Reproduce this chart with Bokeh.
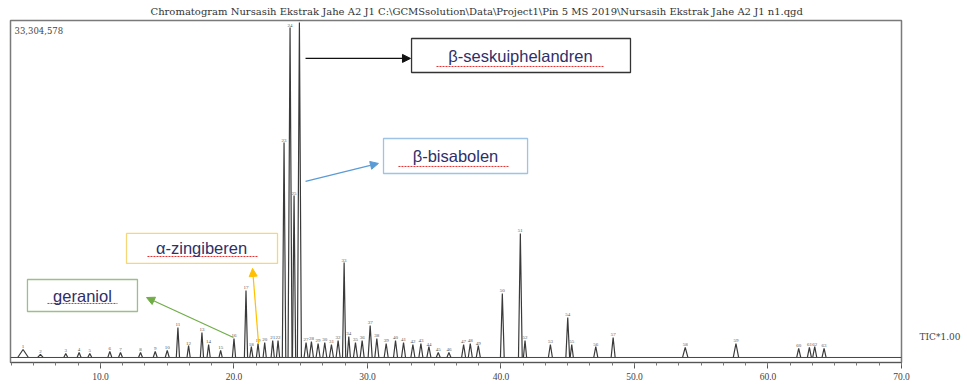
from bokeh.plotting import figure
from bokeh.models import (Range1d, Label, Arrow, NormalHead, Span, SingleIntervalTicker,
                          PrintfTickFormatter, LinearAxis, FixedTicker)
from bokeh.core.properties import value
from bokeh.embed import file_html
from bokeh.resources import INLINE

# ---- data (retention time in min, intensity in counts) ----
peak_rt = [4.2, 5.5, 7.4, 8.4, 9.2, 10.7, 11.5, 13.0, 14.1, 15.0,
           15.8, 16.6, 17.6, 18.1, 19.0, 20.0, 20.9, 21.3, 21.8, 22.3,
           22.9, 23.3, 23.75, 24.2, 24.5, 24.9, 25.4, 25.8, 26.3, 26.8,
           27.3, 27.8, 28.25, 28.6, 29.1, 29.6, 30.2, 30.7, 31.4, 32.1,
           32.7, 33.4, 34.0, 34.6, 35.3, 36.1, 37.2, 37.7, 38.3, 40.1,
           41.45, 41.8, 43.7, 45.0, 45.3, 47.1, 48.4, 53.8, 57.6, 62.3,
           63.1, 63.5, 64.2]
peak_height = [795000, 300000, 400000, 500000, 400000, 600000, 500000, 500000, 600000, 700000,
               2980000, 1190000, 2490000, 1290000, 700000, 1890000, 6660000, 1090000, 1390000, 1490000,
               1690000, 1690000, 21370000, 32800000, 16100000, 33304578, 1490000, 1590000, 1390000, 1490000,
               1290000, 1690000, 9440000, 2090000, 1490000, 1690000, 3180000, 1890000, 1390000, 1690000,
               1490000, 1290000, 1390000, 1090000, 500000, 500000, 1290000, 1390000, 1190000, 6360000,
               12330000, 1690000, 1290000, 3980000, 1290000, 1090000, 1990000, 1000000, 1390000, 900000,
               1000000, 1090000, 900000]
peak_halfwidth = [0.4, 0.2, 0.15, 0.15, 0.15, 0.15, 0.15, 0.15, 0.15, 0.15,
                  0.12, 0.12, 0.12, 0.12, 0.12, 0.12, 0.12, 0.12, 0.12, 0.12,
                  0.12, 0.12, 0.13, 0.15, 0.12, 0.15, 0.15, 0.15, 0.15, 0.15,
                  0.15, 0.15, 0.12, 0.12, 0.15, 0.15, 0.15, 0.15, 0.15, 0.15,
                  0.15, 0.15, 0.15, 0.15, 0.15, 0.15, 0.15, 0.15, 0.15, 0.14,
                  0.14, 0.12, 0.15, 0.14, 0.12, 0.15, 0.15, 0.2, 0.2, 0.15,
                  0.15, 0.15, 0.15]
title_text = ("Chromatogram Nursasih Ekstrak Jahe A2 J1  C:\\GCMSsolution\\Data\\Project1\\"
              "Pin 5 MS 2019\\Nursasih Ekstrak Jahe A2 J1 n1.qgd")
max_label = "33,304,578"
tic_label = "TIC*1.00"
compound_names = ["\u03b2-seskuiphelandren", "\u03b2-bisabolen", "\u03b1-zingiberen", "geraniol"]

SERIF = "Liberation Serif"
WSERIF = "DejaVu Serif"
SANS = "Liberation Sans"

p = figure(width=967, height=389, output_backend="svg", toolbar_location=None,
           x_range=Range1d(3.26, 70.0), y_range=Range1d(-500000, 33500000),
           y_axis_location=None, min_border_left=10, min_border_right=66,
           min_border_top=20, min_border_bottom=27,
           background_fill_color="white", border_fill_color="white")
p.grid.visible = False
p.outline_line_color = "#7a7a7a"
p.outline_line_width = 1.5

p.title.text = title_text
p.title.text_font = WSERIF
p.title.text_font_size = "10px"
p.title.text_font_style = "normal"
p.title.text_color = "#333333"
p.title.align = "left"
p.title.offset = 140
p.title.standoff = 7

ax = p.xaxis[0]
ax.ticker = SingleIntervalTicker(interval=10, num_minor_ticks=6)
ax.formatter = PrintfTickFormatter(format="%.1f")
ax.major_label_text_font = SERIF
ax.major_label_text_font_size = "9.5px"
ax.major_label_text_color = "#444444"
ax.major_label_standoff = 4
ax.major_tick_out = 6
ax.major_tick_in = 0
ax.minor_tick_out = 3
ax.minor_tick_in = 0
ax.axis_line_color = "#555555"
ax.major_tick_line_color = "#555555"
ax.minor_tick_line_color = "#777777"

# right-hand "TIC*1.00" label, placed through an axis with a single tick near the baseline
tic_axis = LinearAxis(ticker=FixedTicker(ticks=[2000000]),
                      major_label_overrides={2000000: tic_label},
                      axis_line_color=None, major_tick_line_color=None, minor_tick_line_color=None,
                      major_label_standoff=12, major_label_text_font=WSERIF,
                      major_label_text_font_size="9px", major_label_text_color="#444444")
p.add_layout(tic_axis, "right")

# baseline of the trace
p.add_layout(Span(location=0, dimension="width", line_color="#444444", line_width=1))

# peaks drawn from the peak table
xs = [[rt - w, rt, rt + w] for rt, w in zip(peak_rt, peak_halfwidth)]
ys = [[0, h, 0] for h in peak_height]
p.multi_line(xs, ys, line_color="#3a3a3a", line_width=1.2)

# tiny peak number labels
p.text(x=peak_rt, y=peak_height, text=[str(i + 1) for i in range(len(peak_rt))],
       text_font=value(SERIF), text_font_size="5px", text_color="#555555",
       text_align="center", text_baseline="bottom", y_offset=-1)

p.add_layout(Label(x=3.56, y=32500000, text=max_label, text_font=WSERIF,
                   text_font_size="8.5px", text_color="#444444",
                   text_align="left", text_baseline="middle"))

# annotation boxes (left, right, top, bottom), text centre, underline, arrow, colours
annotations = [
    dict(box=(33.30, 49.70, 31.71e6, 28.33e6), txt=(41.46, 30.02e6), ul=(35.17, 47.75, 28.93e6),
         arrow=(25.36, 29.73e6, 33.22, 29.73e6), border="#333333", acol="#111111"),
    dict(box=(31.20, 41.99, 21.77e6, 18.29e6), txt=(36.59, 19.98e6), ul=(32.32, 40.56, 18.99e6),
         arrow=(25.36, 17.50e6, 30.82, 19.29e6), border="#9dc3e6", acol="#5b9bd5"),
    dict(box=(11.95, 23.26, 12.33e6, 9.35e6), txt=(17.57, 10.84e6), ul=(13.52, 21.76, 10.04e6),
         arrow=(21.84, 1.39e6, 21.39, 8.85e6), border="#f5d77a", acol="#ffc000"),
    dict(box=(4.53, 12.77, 7.75e6, 4.57e6), txt=(8.65, 6.16e6), ul=(6.03, 11.27, 5.37e6),
         arrow=(19.96, 1.99e6, 13.45, 5.96e6), border="#9cbf86", acol="#70ad47"),
]
for name, a in zip(compound_names, annotations):
    l, r, t, b = a["box"]
    p.quad(left=[l], right=[r], top=[t], bottom=[b], fill_color="white",
           line_color=a["border"], line_width=1.3)
    ul0, ul1, uly = a["ul"]
    p.segment(x0=[ul0], y0=[uly], x1=[ul1], y1=[uly], line_color="#e03030", line_width=1,
              line_dash="2 1")
    tx, ty = a["txt"]
    p.text(x=[tx], y=[ty], text=[name], text_font=value(SANS), text_font_size="16.5px",
           text_color="#2f2f6a", text_align="center", text_baseline="middle")
    x0, y0, x1, y1 = a["arrow"]
    p.add_layout(Arrow(end=NormalHead(size=8, fill_color=a["acol"], line_color=a["acol"]),
                       x_start=x0, y_start=y0, x_end=x1, y_end=y1,
                       line_color=a["acol"], line_width=1.2))

open("out.html", "w").write(file_html(p, INLINE))
